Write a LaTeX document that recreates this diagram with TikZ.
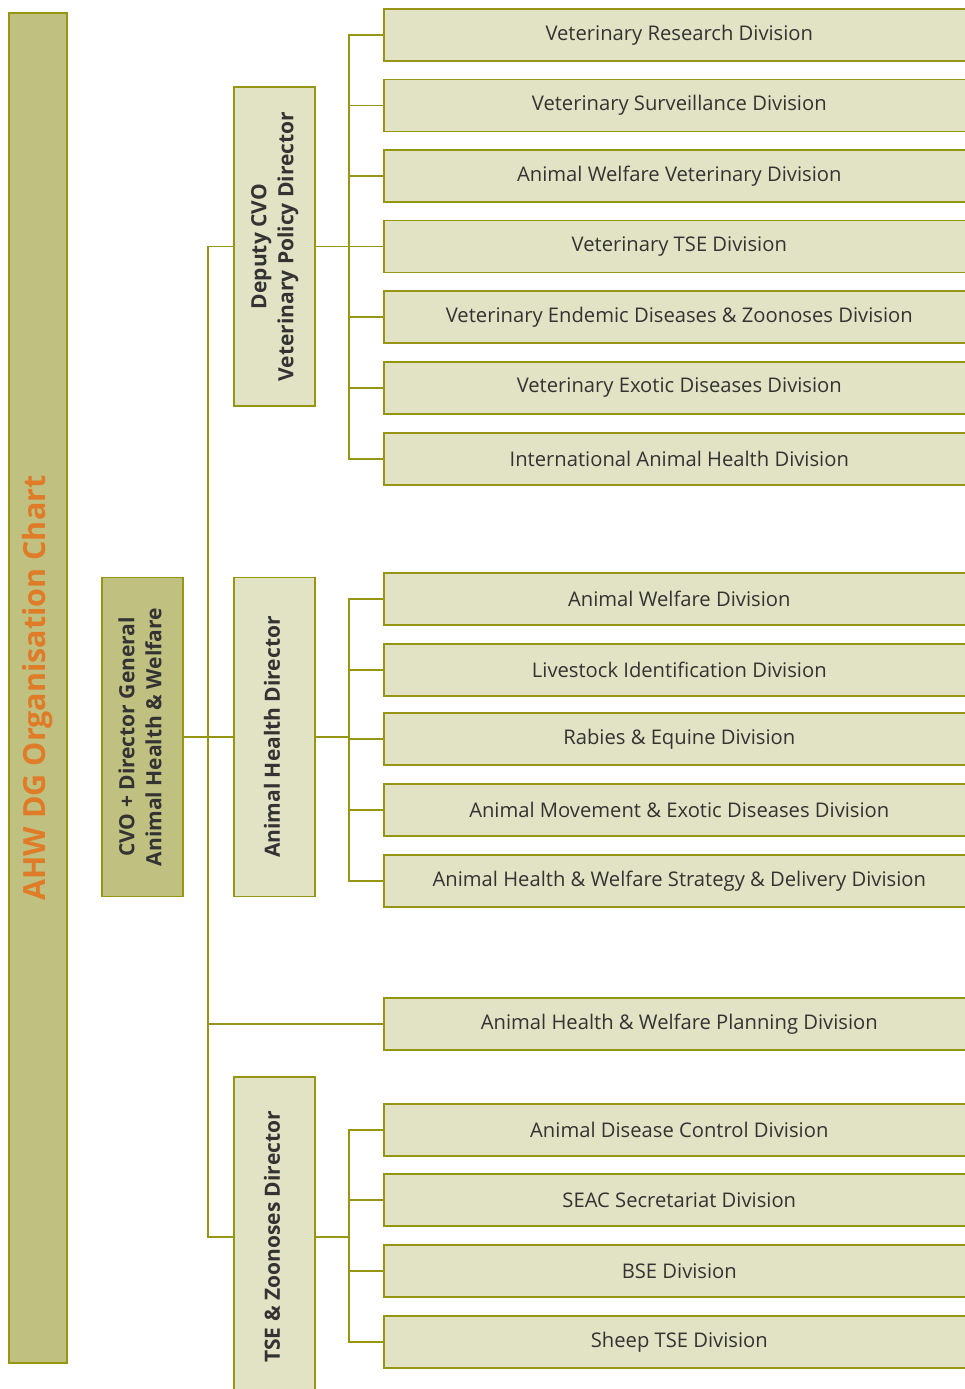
\documentclass[tikz,border=0pt]{standalone}
\usepackage{fontspec}
\setmainfont{Open Sans}
\usepackage{graphicx}
\definecolor{barfill}{HTML}{C0C080}
\definecolor{divfill}{HTML}{E2E3C4}
\definecolor{olive}{HTML}{969614}
\definecolor{txt}{HTML}{333333}
\definecolor{orangetxt}{HTML}{E07B28}
\tikzset{
  divbox/.style={draw=olive, fill=divfill, line width=1.6pt, anchor=west,
    minimum width=591pt, minimum height=52pt, inner sep=0pt, text=txt,
    font=\fontsize{20.2}{23}\selectfont},
  dirbox/.style={draw=olive, fill=divfill, line width=1.6pt, minimum width=81pt,
    minimum height=319pt, inner sep=0pt, text=txt,
    font=\bfseries\fontsize{21}{27}\selectfont},
  conn/.style={draw=olive, line width=1.5pt},
}
\newcommand{\rotlabel}[1]{\rotatebox{90}{\begin{tabular}{@{}c@{}}#1\end{tabular}}}
\begin{document}
\begin{tikzpicture}[x=1pt,y=-1pt]
\useasboundingbox (0,0) rectangle (964,1389);
% title bar
\node[draw=olive, fill=barfill, line width=1.6pt, minimum width=58pt, minimum height=1350pt, inner sep=0pt,
  text=orangetxt, font=\bfseries\fontsize{30.5}{34}\selectfont] (title) at (38,688) {\rotatebox{90}{AHW DG Organisation Chart}};
% directors
\node[dirbox, fill=barfill] (cvo) at (142.5,737) {\rotlabel{CVO + Director General\\Animal Health \& Welfare}};
\node[dirbox] (dep) at (274.5,246.5) {\rotlabel{Deputy CVO\\Veterinary Policy Director}};
\node[dirbox] (ahd) at (274.5,737) {\rotlabel{Animal Health Director}};
\node[dirbox, minimum height=320pt] (tse) at (274.5,1237) {\rotlabel{TSE \& Zoonoses Director}};
% bus coordinates
\coordinate (m) at (208,0);
\coordinate (b) at (349,0);
% group 1
\node[divbox] (a1) at (383,35) {Veterinary Research Division};
\node[divbox] (a2) at (383,105.5) {Veterinary Surveillance Division};
\node[divbox] (a3) at (383,176) {Animal Welfare Veterinary Division};
\node[divbox] (a4) at (383,246.5) {Veterinary TSE Division};
\node[divbox] (a5) at (383,317) {Veterinary Endemic Diseases \& Zoonoses Division};
\node[divbox] (a6) at (383,388) {Veterinary Exotic Diseases Division};
\node[divbox] (a7) at (383,459) {International Animal Health Division};
% group 2
\node[divbox] (c1) at (383,599) {Animal Welfare Division};
\node[divbox] (c2) at (383,670) {Livestock Identification Division};
\node[divbox] (c3) at (383,739) {Rabies \& Equine Division};
\node[divbox] (c4) at (383,810) {Animal Movement \& Exotic Diseases Division};
\node[divbox] (c5) at (383,881) {Animal Health \& Welfare Strategy \& Delivery Division};
% planning
\node[divbox] (p) at (383,1024) {Animal Health \& Welfare Planning Division};
% group 3
\node[divbox] (e1) at (383,1130) {Animal Disease Control Division};
\node[divbox] (e2) at (383,1200) {SEAC Secretariat Division};
\node[divbox] (e3) at (383,1271) {BSE Division};
\node[divbox] (e4) at (383,1342) {Sheep TSE Division};
% main connectors
\draw[conn] (dep.west) -- (dep.west -| m) -- (tse.west -| m) -- (tse.west);
\draw[conn] (cvo.east) -- (ahd.west);
\draw[conn] (p.west) -- (p.west -| m);
% group 1 connectors
\draw[conn] (dep.east) -- (a4.west);
\draw[conn] (a1.west) -- (a1.west -| b) -- (a7.west -| b) -- (a7.west);
\foreach \n in {a2,a3,a5,a6} \draw[conn] (\n.west) -- (\n.west -| b);
% group 2 connectors
\draw[conn] (ahd.east) -- (ahd.east -| b);
\draw[conn] (c1.west) -- (c1.west -| b) -- (c5.west -| b) -- (c5.west);
\foreach \n in {c2,c3,c4} \draw[conn] (\n.west) -- (\n.west -| b);
% group 3 connectors
\draw[conn] (tse.east) -- (tse.east -| b);
\draw[conn] (e1.west) -- (e1.west -| b) -- (e4.west -| b) -- (e4.west);
\foreach \n in {e2,e3} \draw[conn] (\n.west) -- (\n.west -| b);
\end{tikzpicture}
\end{document}
